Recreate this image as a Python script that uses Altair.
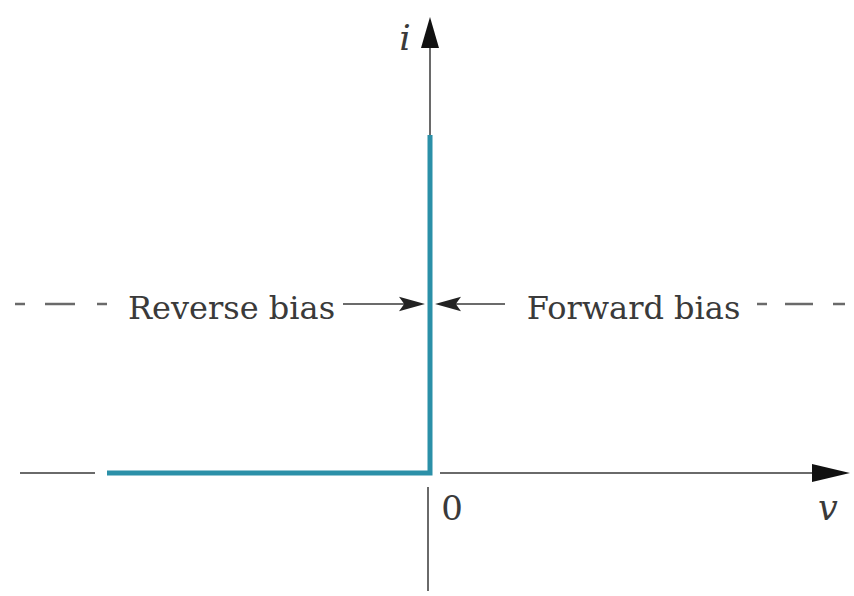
import altair as alt
import pandas as pd

# Ideal diode i-v characteristic: zero current for v < 0, vertical rise at v = 0
curve_v = [-3.23, 0.0, 0.0]
curve_i = [0.0, 0.0, 3.38]

# Axis segments (v0, v1, i0, i1)
axis_v0 = [-4.10, 0.10, 0.0, -0.02]
axis_v1 = [-3.35, 3.85, 0.0, -0.02]
axis_i0 = [0.0, 0.0, 3.38, -0.14]
axis_i1 = [0.0, 0.0, 4.25, -1.18]

# Dashed continuation marks beside the bias labels
dash_v0 = [-4.15, -3.85, -3.33, 3.27, 3.55, 4.03]
dash_v1 = [-4.05, -3.55, -3.23, 3.37, 3.83, 4.15]
label_level = 1.69

# Bias labels
bias_text = ["Reverse bias", "Forward bias"]
bias_v = [-1.985, 2.035]
bias_i = [1.54, 1.54]

# Pointer arrows toward the vertical branch
ptr_v0 = [-0.87, 0.18]
ptr_v1 = [-0.24, 0.75]
ptr_head_v = [-0.18, 0.18]

x_scale = alt.Scale(domain=[-4.30, 4.24], nice=False, zero=False)
y_scale = alt.Scale(domain=[-1.23, 4.73], nice=False, zero=False)

TEAL = "#2b90a8"
GRAY = "#6a6a6a"
INK = "#3a3a3a"


def segs(v0, v1, i0, i1):
    return pd.DataFrame({"v0": v0, "v1": v1, "i0": i0, "i1": i1})


def rule_layer(df, color, width):
    return alt.Chart(df).mark_rule(color=color, strokeWidth=width, strokeCap="butt").encode(
        x=alt.X("v0:Q", scale=x_scale, axis=None),
        x2="v1:Q",
        y=alt.Y("i0:Q", scale=y_scale, axis=None),
        y2="i1:Q",
    )


axes = rule_layer(segs(axis_v0, axis_v1, axis_i0, axis_i1), GRAY, 2)

dashes = rule_layer(
    segs(dash_v0, dash_v1, [label_level] * len(dash_v0), [label_level] * len(dash_v0)),
    GRAY, 2.5,
)

pointers = rule_layer(
    segs(ptr_v0, ptr_v1, [label_level] * 2, [label_level] * 2), INK, 1.6
)

curve = alt.Chart(
    pd.DataFrame({"v": curve_v, "i": curve_i, "k": list(range(len(curve_v)))})
).mark_line(color=TEAL, strokeWidth=5, strokeJoin="miter", strokeCap="butt").encode(
    x=alt.X("v:Q", scale=x_scale, axis=None),
    y=alt.Y("i:Q", scale=y_scale, axis=None),
    order="k:Q",
)


def head(v, i, path, size, color="#111111"):
    return alt.Chart(pd.DataFrame({"v": v, "i": i})).mark_point(
        shape=path, size=size, filled=True, color=color, opacity=1, strokeWidth=0
    ).encode(
        x=alt.X("v:Q", scale=x_scale, axis=None),
        y=alt.Y("i:Q", scale=y_scale, axis=None),
    )


# Axis arrowheads
up_head = head([0.0], [4.405], "M0,-1L0.58,1L-0.58,1Z", 961)
right_head = head([4.01], [0.0], "M1,0L-1,0.47L-1,-0.47Z", 1444)

# Pointer arrowheads (barbed)
ptr_right = head([ptr_head_v[0]], [label_level], "M1,0L-1,-0.55L-0.6,0L-1,0.55Z", 676, "#222222")
ptr_left = head([ptr_head_v[1]], [label_level], "M-1,0L1,-0.55L0.6,0L1,0.55Z", 676, "#222222")

labels = alt.Chart(
    pd.DataFrame({"t": bias_text, "v": bias_v, "i": bias_i})
).mark_text(
    font="DejaVu Serif", fontSize=32, color=INK, align="center", baseline="alphabetic"
).encode(
    x=alt.X("v:Q", scale=x_scale, axis=None),
    y=alt.Y("i:Q", scale=y_scale, axis=None),
    text="t:N",
)


def glyph(txt, v, i, size, style):
    return alt.Chart(pd.DataFrame({"t": [txt], "v": [v], "i": [i]})).mark_text(
        font="DejaVu Serif", fontSize=size, fontStyle=style, color=INK,
        align="center", baseline="alphabetic",
    ).encode(
        x=alt.X("v:Q", scale=x_scale, axis=None),
        y=alt.Y("i:Q", scale=y_scale, axis=None),
        text="t:N",
    )


i_label = glyph("i", -0.25, 4.23, 36, "italic")
zero_label = glyph("0", 0.22, -0.47, 34, "normal")
v_label = glyph("v", 3.98, -0.47, 35, "italic")

chart = alt.layer(
    axes, dashes, pointers, curve, up_head, right_head, ptr_right, ptr_left,
    labels, i_label, zero_label, v_label,
).properties(
    width=854, height=596, padding=0, autosize=alt.AutoSizeParams(type="none"),
    background="white",
).configure_view(stroke=None)

chart.save("out.html", embed_options={"renderer": "svg", "actions": False})
